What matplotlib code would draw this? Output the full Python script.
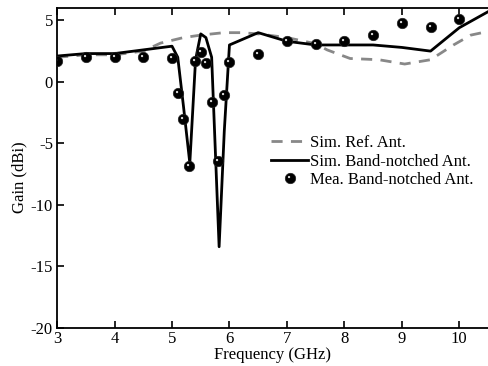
import matplotlib
matplotlib.use('Agg')
import matplotlib.pyplot as plt
from matplotlib.path import Path

# simulated reference antenna (gray dashed)
ref_freq = [3.0, 3.5, 4.0, 4.5, 4.8, 5.2, 5.5, 5.9, 6.2, 6.5, 7.0, 7.5, 7.7, 8.1, 8.6, 9.05, 9.5, 9.9, 10.2, 10.5]
ref_gain = [2.0, 2.2, 2.2, 2.5, 3.15, 3.6, 3.8, 4.0, 4.0, 3.9, 3.6, 3.1, 2.6, 1.9, 1.8, 1.45, 1.8, 3.0, 3.8, 4.1]

# simulated band-notched antenna (black solid)
sim_freq = [3.0, 3.5, 4.0, 4.5, 5.0, 5.1, 5.2, 5.31, 5.41, 5.5, 5.59, 5.69, 5.82, 5.91, 6.0, 6.5, 7.0, 7.5, 8.0, 8.5, 9.0, 9.5, 10.0, 10.5]
sim_gain = [2.1, 2.3, 2.3, 2.6, 2.9, 2.0, -2.0, -6.6, 1.8, 3.9, 3.6, 2.0, -13.4, -4.0, 3.0, 4.0, 3.3, 3.0, 3.0, 3.0, 2.8, 2.5, 4.4, 5.7]

# measured band-notched antenna (spheres)
mea_freq = [3.0, 3.5, 4.0, 4.5, 5.0, 5.1, 5.2, 5.3, 5.4, 5.5, 5.6, 5.7, 5.8, 5.9, 6.0, 6.5, 7.0, 7.5, 8.0, 8.5, 9.0, 9.5, 10.0]
mea_gain = [1.7, 2.0, 2.0, 2.0, 1.9, -0.9, -3.0, -6.8, 1.7, 2.4, 1.5, -1.6, -6.4, -1.1, 1.6, 2.3, 3.3, 3.05, 3.35, 3.8, 4.8, 4.5, 5.1]

x_ticks = [3, 4, 5, 6, 7, 8, 9, 10]
y_ticks = [-20, -15, -10, -5, 0, 5]

plt.rcParams['font.family'] = ['Liberation Serif', 'DejaVu Serif']
plt.rcParams['font.size'] = 12
plt.rcParams['axes.unicode_minus'] = False

# small highlight spot, off-centre, to make the markers look like spheres
glint = Path.make_compound_path(
    Path([[0.5, 0.5]], [Path.MOVETO]),
    Path([[-0.5, -0.5]], [Path.MOVETO]),
    Path.circle(center=(-0.14, 0.14), radius=0.11),
)

fig = plt.figure(figsize=(4.88, 3.66), dpi=100)
ax = fig.add_axes([0.117, 0.104, 0.883, 0.874])

ax.plot(ref_freq, ref_gain, color='#888888', lw=2, ls=(0, (4, 3)), label='Sim. Ref. Ant.', zorder=2)
ax.plot(sim_freq, sim_gain, color='black', lw=2, label='Sim. Band-notched Ant.', zorder=3)
mk = ax.plot(mea_freq, mea_gain, ls='none', marker='o', ms=7.5, mfc='black', mec='#222222', mew=0.5, zorder=4)[0]
hl = ax.plot(mea_freq, mea_gain, ls='none', marker=glint, ms=7.5, mfc='#e0e0e0', mec='none', zorder=5)[0]

ax.set_xlim(3, 10.5)
ax.set_ylim(-20, 6)
ax.set_xticks(x_ticks)
ax.set_yticks(y_ticks)
ax.tick_params(direction='in', top=True, right=False, length=5, width=1.2, labelsize=12, pad=3)
ax.tick_params(axis='x', pad=2)
for side in ['left', 'bottom', 'top']:
    ax.spines[side].set_linewidth(1.3)
ax.spines['right'].set_visible(False)

ax.set_xlabel('Frequency (GHz)', fontsize=12, labelpad=0)
ax.set_ylabel('Gain (dBi)', fontsize=12)
ax.yaxis.set_label_coords(-0.068, 0.47)

handles, labels = ax.get_legend_handles_labels()
handles.append((mk, hl))
labels.append('Mea. Band-notched Ant.')
ax.legend(handles, labels, loc='center right', bbox_to_anchor=(1.0, 0.52), frameon=False,
          fontsize=12, handlelength=2.2, handletextpad=0.1, labelspacing=0.15)

fig.savefig('out.png', dpi=100)
